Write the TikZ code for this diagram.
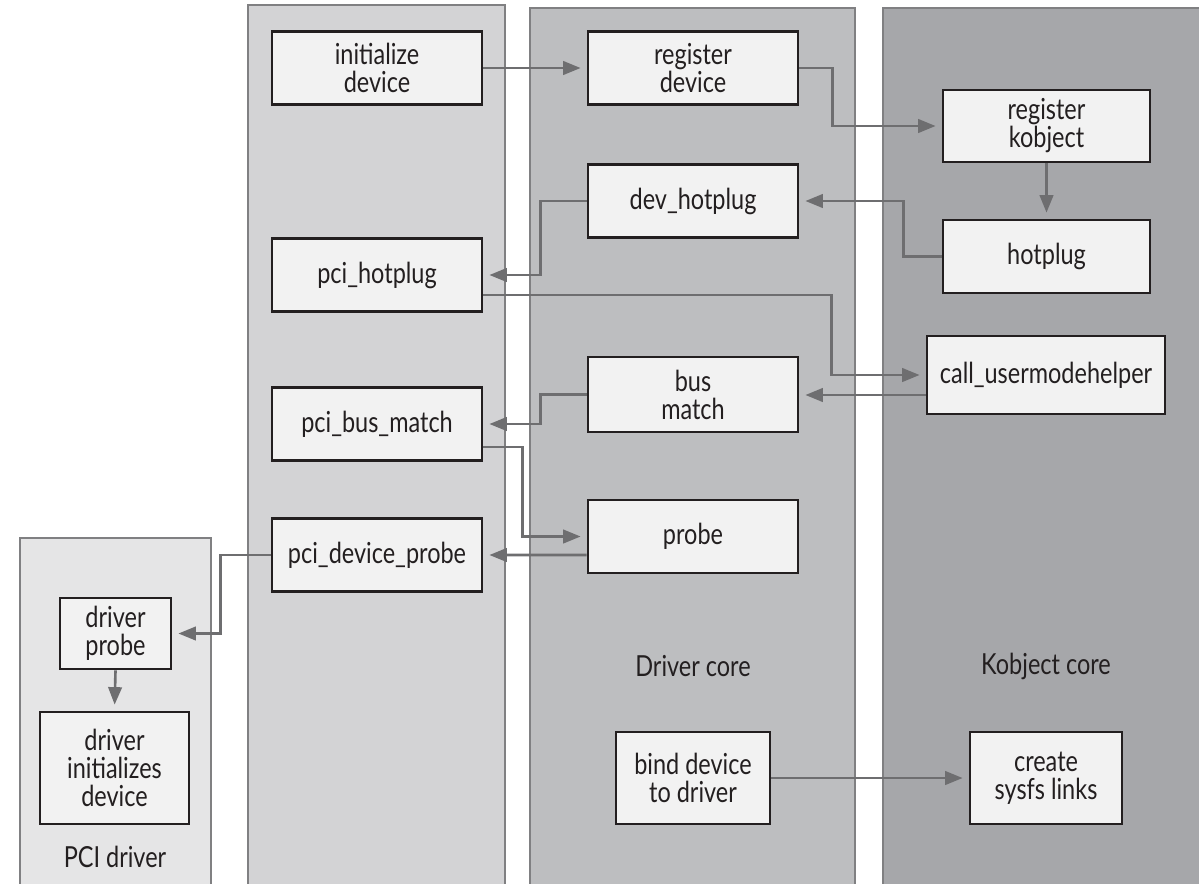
\documentclass[tikz,border=0pt]{standalone}
\usepackage{fontspec}
\setmainfont{Lato}[FakeStretch=0.81]
\usetikzlibrary{arrows.meta, positioning}
\definecolor{boxfill}{RGB}{242, 242, 242}
\definecolor{boxline}{RGB}{35, 31, 32}
\definecolor{wireline}{RGB}{110, 110, 112}
\definecolor{laneline}{RGB}{128, 128, 130}
\definecolor{drvlane}{RGB}{229, 229, 230}
\definecolor{pcilane}{RGB}{211, 211, 213}
\definecolor{corelane}{RGB}{189, 190, 192}
\definecolor{koblane}{RGB}{166, 167, 170}
\tikzset{
  lane/.style={draw=laneline, line width=1.1pt},
  fnbox/.style={rectangle, draw=boxline, fill=boxfill, line width=1.6pt, minimum width=4.2cm, minimum height=1.46cm, text centered, align=center, inner sep=0pt, text=boxline, font=\fontsize{16.5}{16}\selectfont},
  lanetitle/.style={text=boxline, font=\fontsize{16.5}{16}\selectfont},
  wire/.style={draw=wireline, line width=1.5pt, -{Triangle[length=0.35cm, width=0.27cm]}, shorten >=0.12cm}
}

\begin{document}
\begin{tikzpicture}[x=0.02cm, y=-0.02cm]
    \useasboundingbox (0,0) rectangle (1199,883);
    \clip (0,0) rectangle (1199,883);

    % Lanes
    \draw[lane, fill=drvlane] (20,538) rectangle (211,900);
    \draw[lane, fill=pcilane] (248,5) rectangle (505,900);
    \draw[lane, fill=corelane] (530,8) rectangle (855,900);
    \draw[lane, fill=koblane] (883,8) rectangle (1210,900);

    \node[lanetitle] (drvtitle) at (115,857) {PCI driver};
    \node[lanetitle] (coretitle) at (693,666) {Driver core};
    \node[lanetitle] (kobtitle) at (1046,666) {Kobject core};

    % PCI core
    \node[fnbox] (init) at (377,68) {initialize\\device};
    \node[fnbox] (pcihp) at (377,275) {pci\_hotplug};
    \node[fnbox] (pcibm) at (377,424) {pci\_bus\_match};
    \node[fnbox] (pcidp) at (377,555) {pci\_device\_probe};

    % Driver core
    \node[fnbox] (regdev) at (693,68) {register\\device};
    \node[fnbox] (devhp) at (693,201) {dev\_hotplug};
    \node[fnbox, minimum height=1.5cm] (busm) at (693,394.5) {bus\\match};
    \node[fnbox] (probe) at (693,536.5) {probe};
    \node[fnbox, minimum width=3.08cm, minimum height=1.84cm] (bind) at (693,778) {bind device\\to driver};

    % Kobject core
    \node[fnbox, minimum width=4.14cm, minimum height=1.44cm] (regkob) at (1046.5,126) {register\\kobject};
    \node[fnbox, minimum width=4.14cm] (hotplug) at (1046.5,256.5) {hotplug};
    \node[fnbox, minimum width=4.76cm, minimum height=1.56cm] (callum) at (1046,375) {call\_usermodehelper};
    \node[fnbox, minimum width=3.04cm, minimum height=1.84cm] (sysfs) at (1046,778) {create\\sysfs links};

    % PCI driver
    \node[fnbox, minimum width=2.22cm, minimum height=1.42cm] (drvprobe) at (115.5,633.5) {driver\\probe};
    \node[fnbox, minimum width=2.98cm, minimum height=2.24cm] (drvinit) at (114.5,768) {driver\\initializes\\device};

    % Calls
    \draw[wire] (init.east) -- (regdev.west);
    \draw[wire] (regdev.east) -- ++(33,0) |- (regkob.west);
    \draw[wire] (regkob.south) -- (hotplug.north);
    \draw[wire] (hotplug.west) -- ++(-38,0) |- (devhp.east);
    \draw[wire] (devhp.west) -- ++(-46,0) |- (pcihp.east);
    \draw[wire] ([yshift=-0.4cm]pcihp.east) -- ++(348,0) |- (callum.west);
    \draw[wire] ([yshift=-0.4cm]callum.west) -- ([yshift=-0.4cm]callum.west -| busm.east);
    \draw[wire] (busm.west) -- ++(-46,0) |- (pcibm.east);
    \draw[wire] ([yshift=-0.46cm]pcibm.east) -- ++(39,0) |- (probe.west);
    \draw[wire] ([yshift=-0.37cm]probe.west) -- (pcidp.east);
    \draw[wire] (pcidp.west) -- ++(-50,0) |- (drvprobe.east);
    \draw[wire] (drvprobe.south) -- (drvinit.north);
    \draw[wire] (bind.east) -- (sysfs.west);
\end{tikzpicture}
\end{document}
